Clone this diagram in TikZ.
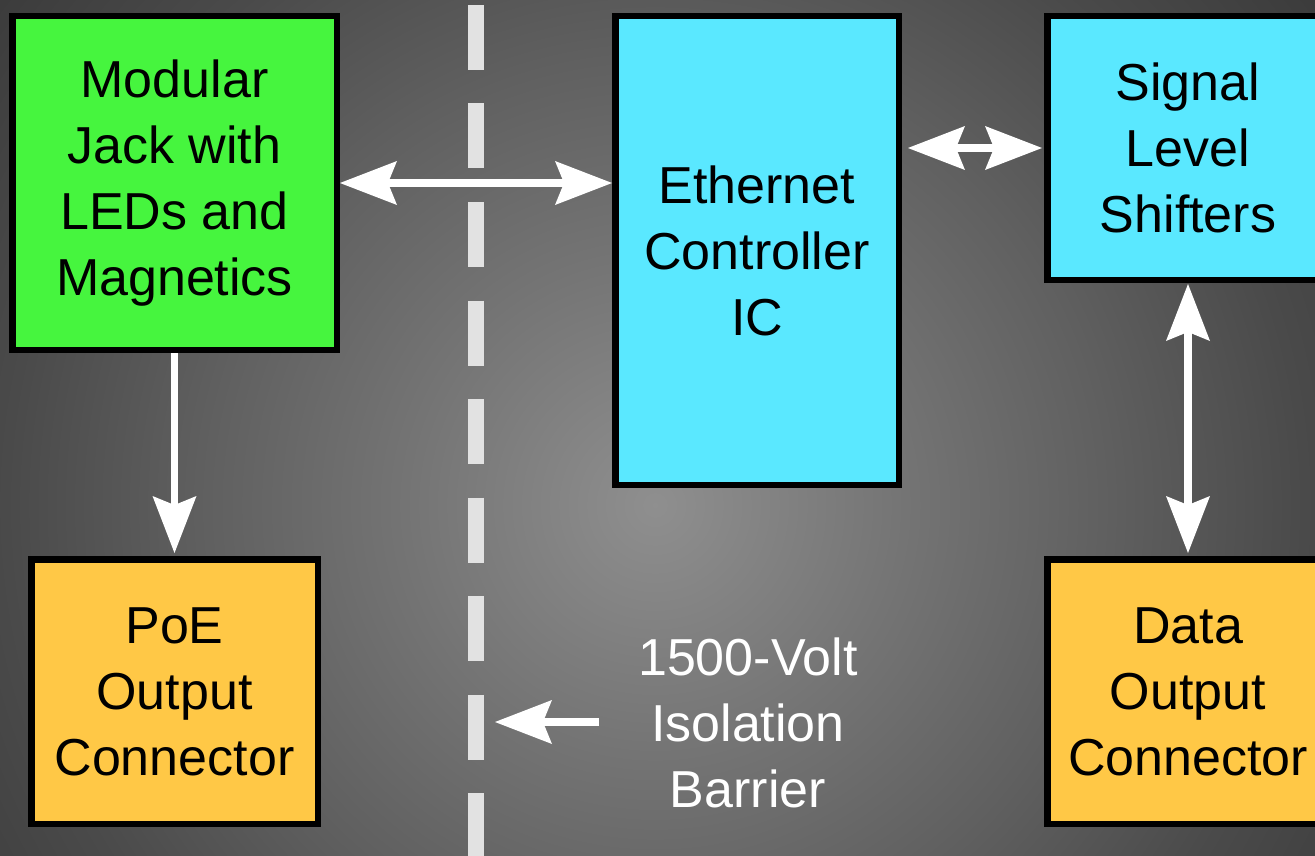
\documentclass[tikz,border=0pt]{standalone}
\usepackage{fontspec}
\setmainfont{Liberation Sans}
\usetikzlibrary{arrows.meta}

\definecolor{jackgreen}{HTML}{46F53E}
\definecolor{chipcyan}{HTML}{5AE8FF}
\definecolor{portgold}{HTML}{FFC846}
\definecolor{barrierline}{HTML}{E2E2E2}
\definecolor{bgA}{gray}{0.56}
\definecolor{bgB}{gray}{0.455}
\definecolor{bgC}{gray}{0.376}
\definecolor{bgD}{gray}{0.29}
\definecolor{bgE}{gray}{0.235}

% soft radial backdrop; the inner 25bp is stretched over the shaded square
\pgfdeclareradialshading{backdrop}{\pgfpoint{0bp}{0bp}}{%
  color(0bp)=(bgA); color(7.35bp)=(bgB); color(13.2bp)=(bgC);
  color(19.1bp)=(bgD); color(24.3bp)=(bgE); color(50bp)=(bgE)}

\tikzset{
  block/.style={draw=black, line width=6.5pt, inner sep=0pt, align=center,
    font=\fontsize{52}{66}\selectfont},
  head/.tip={Stealth[length=57pt, width=44pt, inset=9pt, line width=0pt]},
  oneway/.style={draw=white, line width=7.5pt, -head},
  twoway/.style={draw=white, line width=7.5pt, head-head},
  caption/.style={text=white, align=center, inner sep=0pt,
    font=\fontsize{52}{66}\selectfont},
}

\begin{document}
\begin{tikzpicture}[x=1pt, y=-1pt]
\useasboundingbox (0,0) rectangle (1315,856);

\begin{scope}
  \clip (0,0) rectangle (1315,856);
  \shade[shading=backdrop] (-195,-345) rectangle (1505,1355);
\end{scope}

% isolation barrier
\draw[barrierline, line width=16.5pt, dash pattern=on 65pt off 33.5pt]
  (476,5) -- (476,870);

% blocks
\node[block, fill=jackgreen, minimum width=324.5pt, minimum height=333.5pt]
  (jack) at (174.5,183) {Modular\\Jack with\\LEDs and\\Magnetics};
\node[block, fill=chipcyan, minimum width=283.5pt, minimum height=468.5pt]
  (eth) at (757,250.5) {Ethernet\\Controller\\IC};
\node[block, fill=chipcyan, minimum width=281.5pt, minimum height=263.5pt]
  (shift) at (1188,148) {Signal\\Level\\Shifters};
\node[block, fill=portgold, minimum width=286.5pt, minimum height=264.5pt]
  (poe) at (174.5,691.5) {PoE\\Output\\Connector};
\node[block, fill=portgold, minimum width=281.5pt, minimum height=264.5pt]
  (data) at (1188,691.5) {Data\\Output\\Connector};

\node[caption] (note) at (748,723) {1500-Volt\\Isolation\\Barrier};

% connections
\draw[twoway] (jack.east) -- (jack.east -| eth.west);
\draw[twoway, shorten <=6pt, shorten >=2pt] (shift.west -| eth.east) -- (shift.west);
\draw[oneway, shorten >=3pt] (jack.south) -- (poe.north);
\draw[twoway, shorten <=1pt, shorten >=3pt] (shift.south) -- (data.north);

\coordinate (tail) at (599,722);
\coordinate (gapmark) at (495,722);
\draw[oneway] (tail) -- (gapmark);
\end{tikzpicture}
\end{document}
